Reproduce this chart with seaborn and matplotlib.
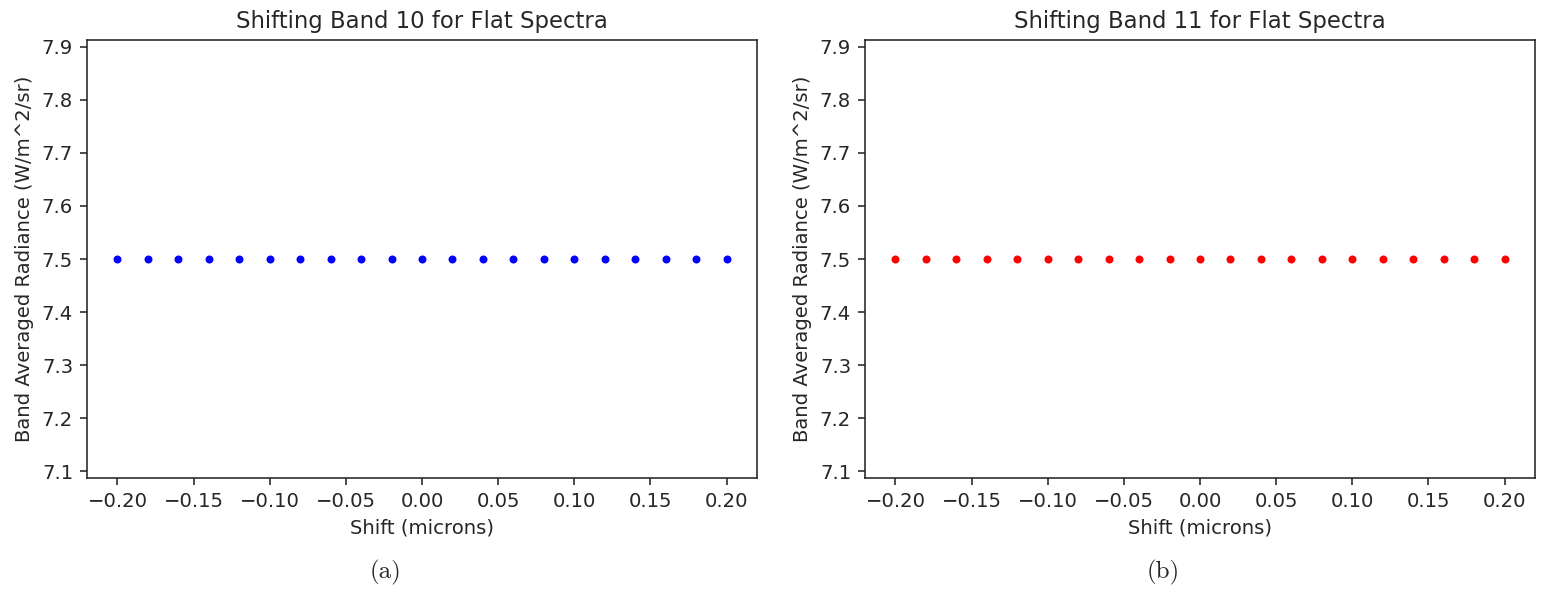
import numpy as np
import pandas as pd
import seaborn as sns
import matplotlib.pyplot as plt

# shift values (microns) and band averaged radiance
shift = [-0.20, -0.18, -0.16, -0.14, -0.12, -0.10, -0.08, -0.06, -0.04, -0.02,
         0.00, 0.02, 0.04, 0.06, 0.08, 0.10, 0.12, 0.14, 0.16, 0.18, 0.20]
band10 = [7.5] * 21
band11 = [7.5] * 21

titles = ["Shifting Band 10 for Flat Spectra", "Shifting Band 11 for Flat Spectra"]
captions = ["(a)", "(b)"]
colors = ["blue", "red"]

sns.set_style("ticks")
plt.rcParams['font.family'] = ['DejaVu Sans']
plt.rcParams['axes.unicode_minus'] = True


def fmt(v, pos):
    s = "%.2f" % (0.0 if abs(v) < 1e-9 else v)
    return s.replace("-", "\u2212")


fig = plt.figure(figsize=(1543 / 144, 598 / 144), dpi=144)
ax1 = fig.add_axes([0.0564, 0.2007, 0.4342, 0.7323])
ax2 = fig.add_axes([0.5606, 0.2007, 0.4342, 0.7323])

for ax, y, t, c in zip([ax1, ax2], [band10, band11], titles, colors):
    df = pd.DataFrame({"shift": shift, "rad": y})
    sns.scatterplot(data=df, x="shift", y="rad", color=c, s=16, linewidth=0, ax=ax)
    ax.set_xlim(-0.22, 0.22)
    ax.set_ylim(7.0875, 7.9125)
    ax.set_xticks(np.round(np.arange(-0.2, 0.201, 0.05), 2))
    ax.set_yticks(np.round(np.arange(7.1, 7.91, 0.1), 1))
    ax.xaxis.set_major_formatter(plt.FuncFormatter(fmt))
    ax.tick_params(labelsize=9.8)
    ax.set_xlabel("Shift (microns)", fontsize=9.8)
    ax.set_ylabel("Band Averaged Radiance (W/m^2/sr)", fontsize=9.8)
    ax.set_title(t, fontsize=11.4)
    for s in ax.spines.values():
        s.set_visible(True)

fig.text(0.250, 0.032, captions[0], ha="center", family="cmr10", fontsize=12.5)
fig.text(0.754, 0.032, captions[1], ha="center", family="cmr10", fontsize=12.5)

fig.savefig("out.png", dpi=144)
